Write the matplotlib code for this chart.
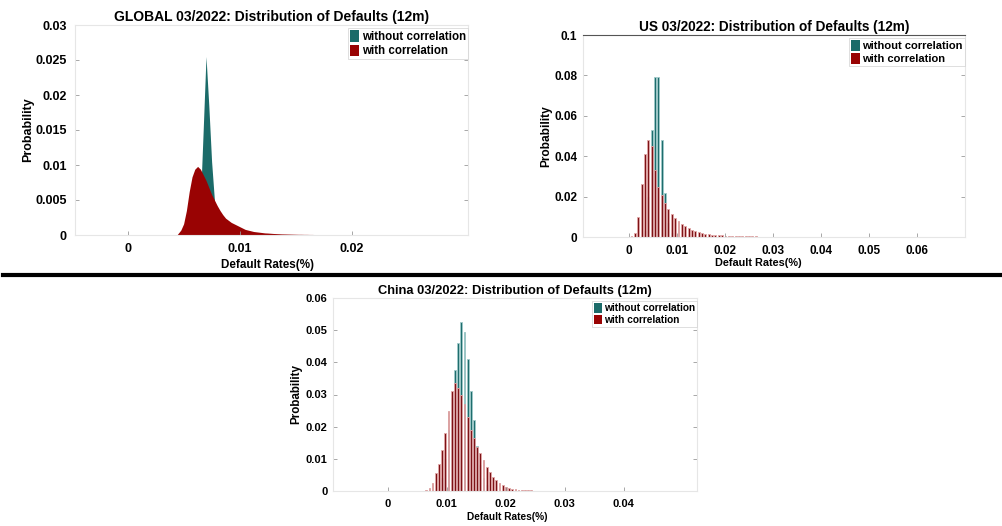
import numpy as np
import matplotlib.pyplot as plt
from matplotlib.patches import Patch
from matplotlib.lines import Line2D

plt.rcParams['font.family'] = ['Liberation Sans', 'DejaVu Sans']
plt.rcParams['font.weight'] = 'bold'

teal = '#1b6b69'
red = '#990303'
bar_red = '#7d1216'
bar_teal = '#1e6d6d'

# ---- GLOBAL (dense distribution, drawn as area) ----
g_x_red = [0.0044, 0.0045, 0.00475, 0.0050, 0.00525, 0.0055, 0.00575, 0.0060, 0.00625,
           0.0065, 0.00675, 0.0070, 0.00725, 0.0075, 0.00775, 0.0080, 0.00825, 0.0085,
           0.00875, 0.0090, 0.00925, 0.0095, 0.00975, 0.0100, 0.01025, 0.0105, 0.01075,
           0.0110, 0.01125, 0.0115, 0.01175, 0.0120, 0.01225, 0.0125, 0.01275, 0.0130,
           0.01325, 0.0135, 0.01375, 0.0140, 0.01425, 0.0145, 0.01475, 0.0150, 0.01525,
           0.0155, 0.01575, 0.0160, 0.01625, 0.0165, 0.01675, 0.0170, 0.01725, 0.0175]
g_red = [0.0, 0.0002, 0.0007, 0.0016, 0.0035, 0.0062, 0.0083, 0.0094, 0.0098,
         0.0094, 0.0086, 0.0078, 0.0068, 0.0058, 0.0050, 0.0042, 0.0035, 0.0029,
         0.0024, 0.0021, 0.0018, 0.0016, 0.0014, 0.0012, 0.0010, 0.0008, 0.0007,
         0.0006, 0.0005, 0.00045, 0.0004, 0.00035, 0.0003, 0.00028, 0.00025, 0.00022,
         0.0002, 0.00018, 0.00016, 0.00015, 0.00014, 0.00013, 0.00012, 0.00011, 0.0001,
         0.0001, 0.00009, 0.00009, 0.00008, 0.00008, 0.00006, 0.00004, 0.00002, 0.0]
g_x_teal = [0.0060, 0.00625, 0.0065, 0.00675, 0.0070, 0.00725, 0.0075, 0.00775, 0.0080, 0.00825, 0.0085]
g_teal = [0.0, 0.0012, 0.0048, 0.0150, 0.0255, 0.0185, 0.0105, 0.0050, 0.0015, 0.0003, 0.0]

# ---- US histogram (bin start / width) ----
us_start, us_step = 0.0005, 0.0007
us_red = [0.0003, 0.002, 0.010, 0.026, 0.041, 0.048, 0.045, 0.033, 0.025, 0.021,
          0.017, 0.014, 0.0115, 0.0095, 0.0078, 0.0064, 0.0052, 0.0043, 0.0035, 0.0029,
          0.0024, 0.0020, 0.0017, 0.0014, 0.0012, 0.0010, 0.0009, 0.0008, 0.0007, 0.0006,
          0.0005, 0.0005, 0.0004, 0.0004, 0.0003, 0.0003, 0.0003, 0.0003, 0.0002, 0.0002,
          0.0002, 0.0002, 0.0002, 0.0002, 0.0002, 0.0002, 0.0001, 0.0001, 0, 0,
          0, 0, 0, 0, 0, 0, 0, 0, 0, 0,
          0, 0, 0, 0.0001, 0.0001, 0.0001, 0.0002, 0.0001, 0.0001, 0.0001, 0.0001]
us_teal = [0, 0, 0, 0, 0.003, 0.020, 0.053, 0.079, 0.079, 0.048, 0.022, 0.007, 0.002]

# ---- China histogram ----
cn_start, cn_step = 0.0065, 0.00054
cn_red = [0.0003, 0.001, 0.0025, 0.0055, 0.0085, 0.0127, 0.018, 0.025, 0.031, 0.0335,
          0.032, 0.030, 0.027, 0.023, 0.019, 0.0165, 0.0137, 0.0118, 0.0096, 0.0075,
          0.006, 0.0044, 0.0034, 0.0026, 0.0018, 0.0013, 0.0009, 0.0007, 0.0005, 0.0004,
          0.0003, 0.0003, 0.0002, 0.0002, 0.00015, 0.0001, 0.0001, 0.0001, 0.00008, 0.00005]
cn_teal = [0, 0, 0, 0, 0, 0.004, 0.010, 0.019, 0.029, 0.0376,
           0.046, 0.0526, 0.0495, 0.041, 0.031, 0.022, 0.014, 0.008, 0.004, 0.002]

labels = ['without correlation', 'with correlation']

fig = plt.figure(figsize=(10.02, 5.26), dpi=100)
W, H = 1002.0, 526.0


def make_ax(l, r, t, b):
    return fig.add_axes([l / W, 1 - b / H, (r - l) / W, (b - t) / H])


def style(ax, title, xt, xtl, yt, ytl, xlim, ylim, fs, ylab_x, xlab_x, xlab_y, top_dark=False):
    ax.set_xlim(*xlim)
    ax.set_ylim(*ylim)
    ax.set_xticks(xt)
    ax.set_xticklabels(xtl)
    ax.set_yticks(yt)
    ax.set_yticklabels(ytl)
    ax.tick_params(labelsize=fs['tick'], length=3, width=0.6, color='#999999',
                   direction='in', top=False, right=True, pad=6)
    ax.tick_params(axis='y', pad=fs['ypad'])
    for s in ax.spines.values():
        s.set_color('#e6e6e6')
        s.set_linewidth(0.8)
    if top_dark:
        ax.spines['top'].set_color('#555555')
    ax.set_title(title, fontsize=fs['title'], fontweight='bold', pad=3)
    ax.set_xlabel('Default Rates(%)', fontsize=fs['xlabel'], fontweight='bold')
    ax.set_ylabel('Probability', fontsize=fs['ylabel'], fontweight='bold')
    ax.xaxis.label.set_va('center')
    ax.yaxis.label.set_va('center')
    ax.xaxis.set_label_coords(xlab_x, xlab_y)
    ax.yaxis.set_label_coords(ylab_x, 0.5)
    handles = [Patch(facecolor=teal, edgecolor='none'), Patch(facecolor=red, edgecolor='none')]
    leg = ax.legend(handles, labels, loc='upper right', bbox_to_anchor=(1.0, 0.985),
                    prop={'weight': 'bold', 'size': fs['legend']},
                    handlelength=0.8, handleheight=1.1, handletextpad=0.2,
                    labelspacing=0.15, borderpad=0.2, borderaxespad=0.0,
                    fancybox=False, frameon=True, edgecolor='#d0d0d0')
    leg.get_frame().set_linewidth(0.6)


# GLOBAL panel
ax1 = make_ax(75, 468, 25, 235)
ax1.fill_between(g_x_teal, g_teal, color=teal, lw=0)
ax1.fill_between(g_x_red, g_red, color=red, lw=0)
style(ax1, 'GLOBAL 03/2022: Distribution of Defaults (12m)',
      [0, 0.01, 0.02], ['0', '0.01', '0.02'],
      [0, 0.005, 0.01, 0.015, 0.02, 0.025, 0.03],
      ['0', '0.005', '0.01', '0.015', '0.02', '0.025', '0.03'],
      (-0.0047, 0.0304), (0, 0.03),
      {'tick': 9, 'title': 10, 'xlabel': 8.4, 'ylabel': 9, 'legend': 8.3, 'ypad': 6},
      -0.12, 0.49, -0.143)

# US panel
ax2 = make_ax(583, 965, 35, 237)
us_x = us_start + us_step * np.arange(len(us_red))
us_tx = us_start + us_step * np.arange(len(us_teal))
ax2.bar(us_tx, us_teal, width=0.0004, color=bar_teal, edgecolor='#9fcaca', linewidth=0.6)
ax2.bar(us_x, us_red, width=0.0004, color=bar_red, edgecolor='#e3a9a9', linewidth=0.6)
style(ax2, 'US 03/2022: Distribution of Defaults (12m)',
      [0, 0.01, 0.02, 0.03, 0.04, 0.05, 0.06],
      ['0', '0.01', '0.02', '0.03', '0.04', '0.05', '0.06'],
      [0, 0.02, 0.04, 0.06, 0.08, 0.1], ['0', '0.02', '0.04', '0.06', '0.08', '0.1'],
      (-0.0096, 0.07), (0, 0.1),
      {'tick': 8.5, 'title': 9.8, 'xlabel': 7.8, 'ylabel': 8.6, 'legend': 8, 'ypad': 4},
      -0.095, 0.458, -0.129, top_dark=True)

# China panel
ax3 = make_ax(333, 697, 298, 491)
cn_x = cn_start + cn_step * np.arange(len(cn_red))
cn_tx = cn_start + cn_step * np.arange(len(cn_teal))
ax3.bar(cn_tx, cn_teal, width=0.0003, color=bar_teal, edgecolor='#9fcaca', linewidth=0.6)
ax3.bar(cn_x, cn_red, width=0.0003, color=bar_red, edgecolor='#e3a9a9', linewidth=0.6)
style(ax3, 'China 03/2022: Distribution of Defaults (12m)',
      [0, 0.01, 0.02, 0.03, 0.04], ['0', '0.01', '0.02', '0.03', '0.04'],
      [0, 0.01, 0.02, 0.03, 0.04, 0.05, 0.06],
      ['0', '0.01', '0.02', '0.03', '0.04', '0.05', '0.06'],
      (-0.0093, 0.0524), (0, 0.06),
      {'tick': 8, 'title': 9.3, 'xlabel': 7.3, 'ylabel': 8.4, 'legend': 7.3, 'ypad': 4},
      -0.1, 0.48, -0.135)

# separator between the two rows
fig.add_artist(Line2D([3 / W, 1.0], [1 - 275 / H, 1 - 275 / H], transform=fig.transFigure,
                      color='black', linewidth=3))

fig.savefig('out.png', dpi=100)
